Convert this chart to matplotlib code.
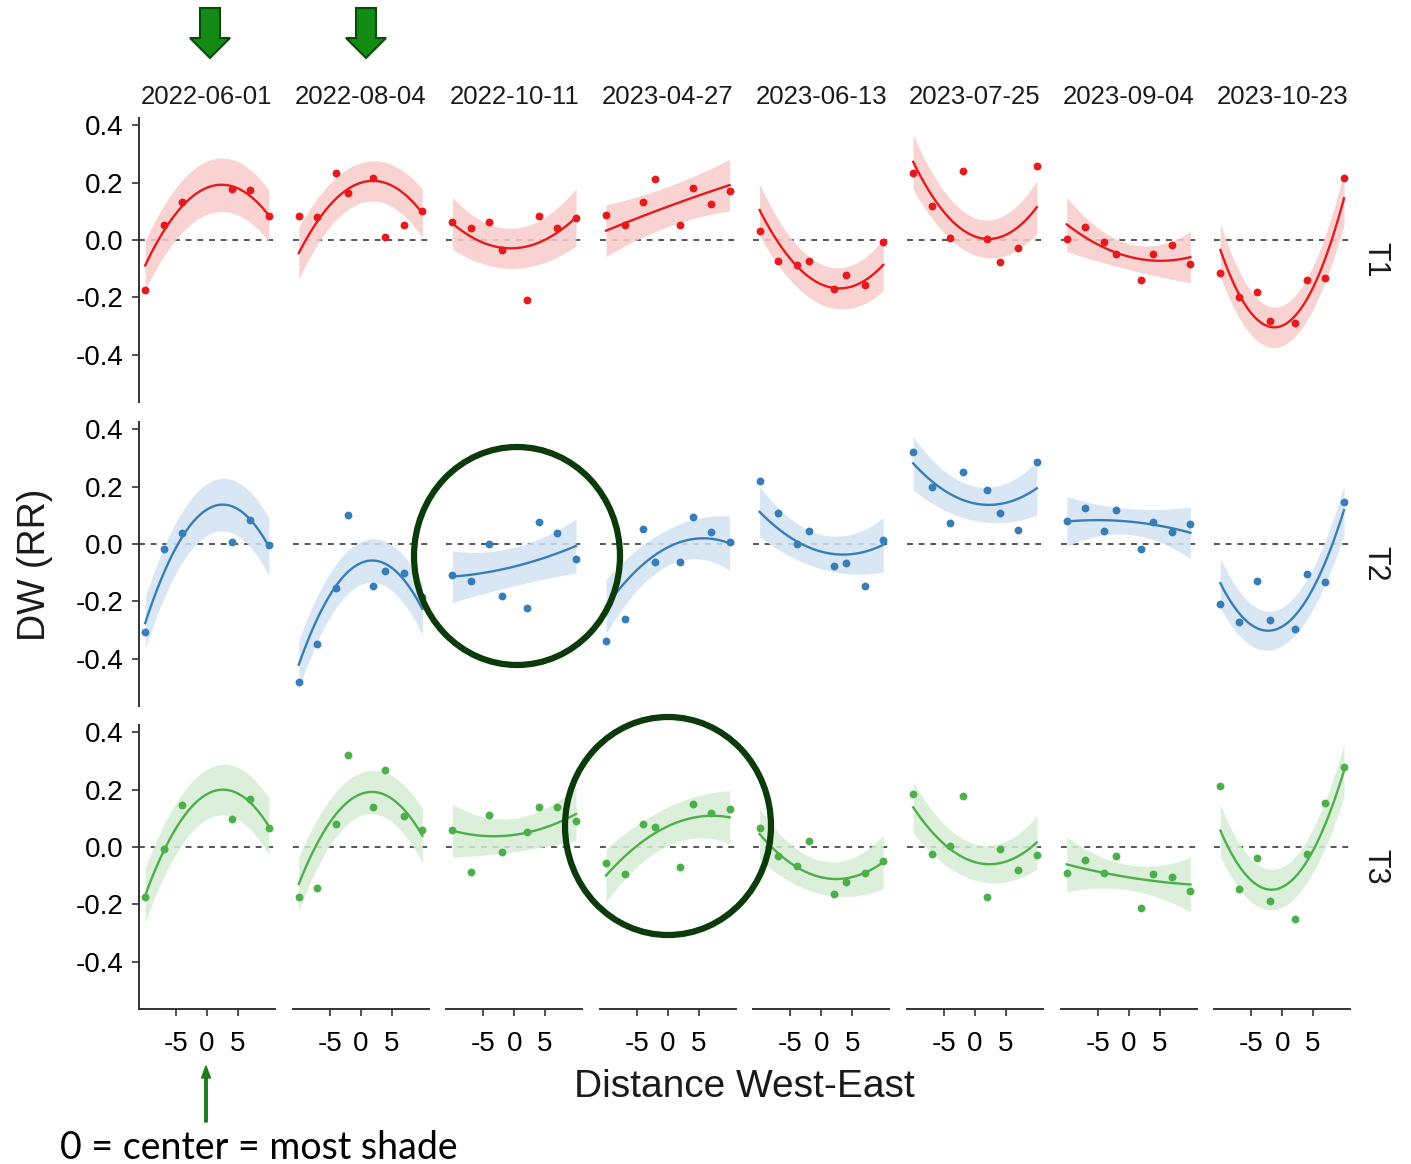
"""
Réplica de la figura DW (RR) frente a la distancia Oeste-Este:
3 tratamientos (filas) x 8 fechas (columnas), con la curva cuadrática
ajustada y su banda de confianza, más las anotaciones en verde.
"""

import numpy as np
import matplotlib.pyplot as plt
from matplotlib.patches import Ellipse, FancyArrow

plt.rcParams["font.family"] = ["Liberation Sans", "DejaVu Sans"]

# ---------------------------------------------------------------------------
# Datos
# ---------------------------------------------------------------------------

fechas = ["2022-06-01", "2022-08-04", "2022-10-11", "2023-04-27",
          "2023-06-13", "2023-07-25", "2023-09-04", "2023-10-23"]
tratamientos = ["T1", "T2", "T3"]

x_completo = [-10, -7, -4, -2, 2, 4, 7, 10]
x_primera = [-10, -7, -4, 4, 7, 10]   # la primera fecha no tiene -2 ni 2

# puntos (medias) por fecha
dw_t1 = [
    [-0.175, 0.052, 0.133, 0.176, 0.173, 0.085],
    [0.085, 0.079, 0.233, 0.162, 0.216, 0.010, 0.051, 0.101],
    [0.061, 0.043, 0.061, -0.036, -0.208, 0.083, 0.043, 0.075],
    [0.088, 0.051, 0.133, 0.213, 0.053, 0.182, 0.126, 0.172],
    [0.030, -0.073, -0.089, -0.072, -0.172, -0.122, -0.158, -0.008],
    [0.232, 0.117, 0.005, 0.240, 0.003, -0.077, -0.028, 0.259],
    [0.003, 0.044, -0.006, -0.050, -0.141, -0.049, -0.016, -0.083],
    [-0.115, -0.198, -0.182, -0.283, -0.288, -0.139, -0.132, 0.216],
]
dw_t2 = [
    [-0.308, -0.017, 0.038, 0.005, 0.083, -0.003],
    [-0.480, -0.349, -0.154, 0.102, -0.147, -0.094, -0.100, -0.186],
    [-0.110, -0.131, -0.002, -0.181, -0.223, 0.075, 0.037, -0.051],
    [-0.339, -0.261, 0.053, -0.063, -0.063, 0.095, 0.042, 0.008],
    [0.220, 0.107, -0.002, 0.046, -0.077, -0.066, -0.148, 0.014],
    [0.322, 0.197, 0.072, 0.252, 0.188, 0.107, 0.048, 0.286],
    [0.079, 0.124, 0.046, 0.118, -0.017, 0.077, 0.042, 0.071],
    [-0.209, -0.271, -0.131, -0.264, -0.295, -0.106, -0.132, 0.145],
]
dw_t3 = [
    [-0.176, -0.007, 0.147, 0.096, 0.168, 0.067],
    [-0.176, -0.142, 0.080, 0.320, 0.139, 0.269, 0.107, 0.059],
    [0.059, -0.087, 0.112, -0.016, 0.052, 0.138, 0.140, 0.092],
    [-0.056, -0.096, 0.080, 0.068, -0.071, 0.150, 0.119, 0.131],
    [0.066, -0.030, -0.065, 0.020, -0.163, -0.123, -0.090, -0.050],
    [0.184, -0.024, 0.003, 0.179, -0.175, -0.007, -0.081, -0.027],
    [-0.092, -0.044, -0.092, -0.032, -0.213, -0.094, -0.104, -0.153],
    [0.213, -0.148, -0.039, -0.190, -0.252, -0.023, 0.154, 0.277],
]

x_curva = [-10, 0, 10]
curva_t1 = [
    [-0.089, 0.182, 0.085], [-0.046, 0.199, 0.093], [0.058, -0.029, 0.079],
    [0.032, 0.116, 0.191], [0.104, -0.155, -0.087], [0.272, 0.012, 0.114],
    [0.054, -0.058, -0.060], [-0.035, -0.299, 0.145],
]
curva_t2 = [
    [-0.276, 0.120, -0.009], [-0.421, -0.067, -0.227], [-0.114, -0.079, -0.007],
    [-0.218, -0.012, 0.002], [0.112, -0.027, -0.003], [0.281, 0.141, 0.194],
    [0.078, 0.078, 0.039], [-0.137, -0.288, 0.118],
]
curva_t3 = [
    [-0.169, 0.184, 0.072], [-0.129, 0.184, 0.039], [0.057, 0.042, 0.115],
    [-0.100, 0.072, 0.103], [0.045, -0.106, -0.053], [0.138, -0.053, 0.016],
    [-0.061, -0.106, -0.131], [0.057, -0.140, 0.266],
]

# semiancho de la banda de confianza en x = -10, 0, 10
banda_t1 = [
    [0.085, 0.093, 0.090], [0.090, 0.070, 0.085], [0.090, 0.070, 0.100],
    [0.090, 0.070, 0.090], [0.090, 0.070, 0.090], [0.095, 0.065, 0.093],
    [0.095, 0.045, 0.090], [0.093, 0.070, 0.093],
]
banda_t2 = [
    [0.090, 0.090, 0.100], [0.085, 0.075, 0.090], [0.090, 0.067, 0.094],
    [0.095, 0.063, 0.095], [0.087, 0.060, 0.095], [0.093, 0.060, 0.093],
    [0.087, 0.045, 0.090], [0.087, 0.067, 0.085],
]
banda_t3 = [
    [0.095, 0.087, 0.100], [0.095, 0.075, 0.095], [0.093, 0.058, 0.093],
    [0.093, 0.067, 0.093], [0.090, 0.058, 0.093], [0.090, 0.063, 0.093],
    [0.096, 0.044, 0.095], [0.090, 0.070, 0.093],
]

colores = ["#e41a1c", "#377eb8", "#4daf4a"]
colores_banda = ["#f8caca", "#d3e2f1", "#d6edd5"]


def curva_cuadratica(valores, xs):
    coef = np.polyfit(x_curva, valores, 2)
    return np.polyval(coef, xs)


# ---------------------------------------------------------------------------
# Figura
# ---------------------------------------------------------------------------

W, H = 1411, 1164
fig = plt.figure(figsize=(W / 100, H / 100), dpi=100)

ancho, alto = 136, 284
tops = [118, 422, 725]
series = zip(tratamientos, [dw_t1, dw_t2, dw_t3],
             [curva_t1, curva_t2, curva_t3], [banda_t1, banda_t2, banda_t3])

for fila, (trat, datos, curvas, bandas) in enumerate(series):
    for col, fecha in enumerate(fechas):
        cero = 207 + 153.6 * col
        izq = cero - ancho / 2
        ax = fig.add_axes([izq / W, 1 - (tops[fila] + alto) / H,
                           ancho / W, alto / H])
        x = x_primera if col == 0 else x_completo
        y = datos[col]
        xs = np.linspace(-10, 10, 100)
        yhat = curva_cuadratica(curvas[col], xs)
        semi = curva_cuadratica(bandas[col], xs)

        ax.axhline(0, color="#555555", ls=(0, (3, 3)), lw=1.4, zorder=1)
        ax.fill_between(xs, yhat - semi, yhat + semi,
                        color=colores_banda[fila], lw=0, alpha=0.85, zorder=2)
        ax.plot(xs, yhat, color=colores[fila], lw=1.7, zorder=3)
        ax.scatter(x, y, s=32, color=colores[fila], lw=0, zorder=4)

        ax.set_xlim(-11, 11)
        ax.set_ylim(-0.565, 0.425)
        ax.set_facecolor("none")
        for lado in ["top", "right"]:
            ax.spines[lado].set_visible(False)
        ax.spines["left"].set_visible(col == 0)
        ax.spines["bottom"].set_visible(fila == 2)
        for lado in ["left", "bottom"]:
            ax.spines[lado].set_color("#333333")
            ax.spines[lado].set_linewidth(1.4)

        if col == 0:
            ax.set_yticks([-0.4, -0.2, 0.0, 0.2, 0.4])
            ax.set_yticklabels(["-0.4", "-0.2", "0.0", "0.2", "0.4"])
            ax.tick_params(axis="y", labelsize=20, length=5, width=1.2,
                           color="#333333", pad=6)
        else:
            ax.set_yticks([])
        if fila == 2:
            ax.set_xticks([-5, 0, 5])
            ax.set_xticklabels(["-5", "0", "5"])
            ax.tick_params(axis="x", labelsize=20, length=5, width=1.2,
                           color="#333333", pad=11)
        else:
            ax.set_xticks([])

        if fila == 0:
            ax.text(0.5, 1.03, fecha, transform=ax.transAxes, ha="center",
                    va="bottom", fontsize=18.5, color="#1a1a1a")
        if col == 7:
            ax.text(1.0 + 25 / ancho, 0.5, trat, transform=ax.transAxes,
                    ha="center", va="center", rotation=-90, fontsize=22,
                    color="#1a1a1a")

fig.text(35 / W, 1 - 565 / H, "DW (RR)", rotation=90, ha="center",
         va="center", fontsize=27, color="#1a1a1a")
fig.text(744 / W, 1 - 1087 / H, "Distance West-East", ha="center",
         va="center", fontsize=28, color="#1a1a1a")

# ---------------------------------------------------------------------------
# Anotaciones (capa en coordenadas de píxel)
# ---------------------------------------------------------------------------

capa = fig.add_axes([0, 0, 1, 1], zorder=10)
capa.set_xlim(0, W)
capa.set_ylim(H, 0)
capa.axis("off")
capa.patch.set_alpha(0)

for cx in [210, 366]:
    capa.add_patch(FancyArrow(cx, 8, 0, 50, width=20, head_width=40,
                              head_length=20, length_includes_head=True,
                              facecolor="#138a13", edgecolor="#0a4a0a",
                              lw=1.5))

for cx, cy in [(517, 556), (668, 826)]:
    capa.add_patch(Ellipse((cx, cy), 206, 218, fill=False,
                           edgecolor="#0b3b0b", lw=4.5))

capa.add_patch(FancyArrow(206, 1122, 0, -56, width=2.5, head_width=9,
                          head_length=12, length_includes_head=True,
                          color="#1c7c1c"))
capa.text(60, 1148, "0 = center = most shade", fontsize=27,
          family=["Lato", "DejaVu Sans"], ha="left", va="center",
          color="black")

fig.savefig("out.png", dpi=100)
